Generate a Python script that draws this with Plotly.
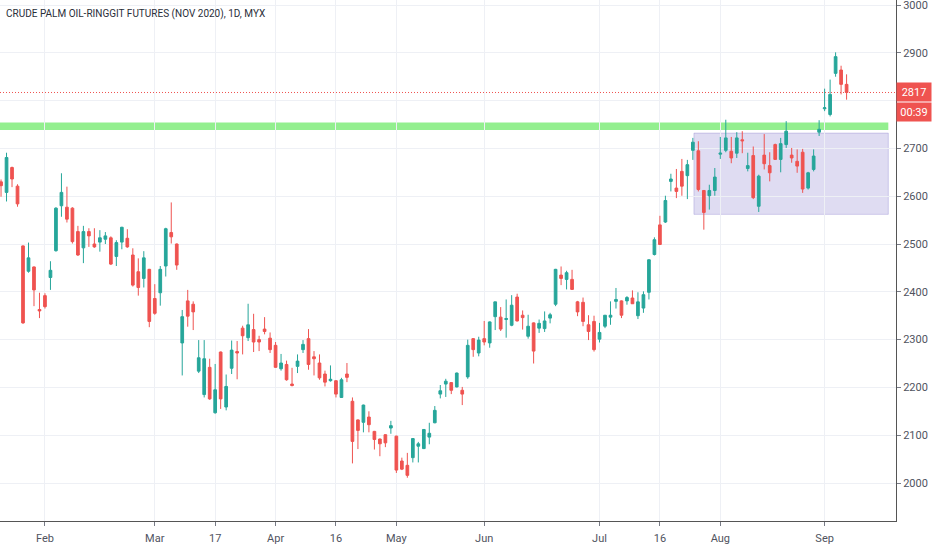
import pandas as pd
import plotly.graph_objects as go

# trading days shown (MYX holidays removed)
holidays = ["2020-01-27", "2020-05-01", "2020-05-07", "2020-05-11", "2020-05-25",
            "2020-05-26", "2020-06-08", "2020-07-31", "2020-08-20", "2020-08-31"]
days = pd.bdate_range("2020-01-21", "2020-09-07")
days = [d.strftime("%Y-%m-%d") for d in days if d.strftime("%Y-%m-%d") not in holidays]

opens = [2630, 2608, 2660, 2621, 2496, 2443, 2452, 2363, 2392, 2430,
         2486, 2580, 2577, 2575, 2526, 2492, 2526, 2500, 2504, 2510,
         2513, 2474, 2504, 2512, 2477, 2442, 2428, 2447, 2386, 2398,
         2454, 2524, 2500, 2293, 2381, 2374, 2234, 2185, 2242, 2147,
         2274, 2159, 2240, 2275, 2324, 2304, 2321, 2300, 2322, 2303,
         2288, 2239, 2248, 2207, 2244, 2279, 2302, 2264, 2251, 2228,
         2214, 2214, 2179, 2228, 2171, 2132, 2127, 2138, 2108, 2092,
         2101, 2115, 2098, 2046, 2037, 2053, 2077, 2072, 2096, 2126,
         2186, 2207, 2210, 2201, 2194, 2222, 2302, 2272, 2302, 2293,
         2348, 2347, 2342, 2330, 2389, 2351, 2307, 2335, 2324, 2323,
         2345, 2374, 2435, 2426, 2426, 2379, 2378, 2331, 2338, 2301,
         2328, 2347, 2380, 2381, 2381, 2387, 2350, 2366, 2399, 2478,
         2540, 2546, 2631, 2617, 2652, 2643, 2696, 2695, 2612, 2601,
         2612, 2688, 2696, 2694, 2690, 2718, 2658, 2685, 2579, 2686,
         2664, 2708, 2677, 2708, 2686, 2673, 2692, 2617, 2656, 2734,
         2783, 2771, 2857, 2864, 2834]
highs = [2635, 2691, 2662, 2625, 2497, 2503, 2453, 2398, 2397, 2464,
         2577, 2648, 2620, 2577, 2538, 2538, 2533, 2533, 2529, 2525,
         2516, 2508, 2536, 2531, 2491, 2470, 2485, 2448, 2416, 2454,
         2534, 2587, 2501, 2362, 2404, 2380, 2299, 2299, 2260, 2249,
         2275, 2227, 2298, 2297, 2329, 2375, 2354, 2308, 2347, 2315,
         2295, 2270, 2256, 2241, 2269, 2299, 2322, 2276, 2269, 2235,
         2246, 2215, 2220, 2251, 2179, 2133, 2164, 2150, 2109, 2093,
         2102, 2130, 2099, 2053, 2063, 2094, 2086, 2113, 2126, 2161,
         2205, 2218, 2211, 2231, 2201, 2300, 2303, 2306, 2339, 2338,
         2379, 2368, 2384, 2393, 2396, 2361, 2352, 2336, 2342, 2359,
         2356, 2448, 2453, 2444, 2446, 2381, 2388, 2351, 2350, 2335,
         2351, 2380, 2408, 2382, 2391, 2403, 2399, 2401, 2468, 2514,
         2559, 2601, 2647, 2657, 2678, 2676, 2722, 2715, 2613, 2624,
         2659, 2724, 2760, 2724, 2734, 2736, 2691, 2704, 2645, 2730,
         2692, 2710, 2722, 2757, 2701, 2698, 2699, 2651, 2698, 2759,
         2825, 2844, 2901, 2873, 2855]
lows = [2599, 2589, 2619, 2578, 2333, 2440, 2370, 2345, 2365, 2404,
        2484, 2557, 2545, 2501, 2475, 2460, 2494, 2492, 2484, 2500,
        2456, 2454, 2489, 2492, 2411, 2392, 2409, 2326, 2352, 2371,
        2432, 2501, 2446, 2225, 2327, 2320, 2230, 2179, 2174, 2145,
        2155, 2152, 2228, 2217, 2269, 2297, 2274, 2276, 2311, 2272,
        2241, 2235, 2214, 2202, 2230, 2272, 2237, 2225, 2216, 2202,
        2212, 2179, 2178, 2211, 2041, 2071, 2106, 2106, 2070, 2056,
        2075, 2103, 2021, 2027, 2011, 2043, 2043, 2071, 2081, 2125,
        2177, 2180, 2186, 2200, 2163, 2218, 2264, 2265, 2288, 2283,
        2320, 2318, 2304, 2328, 2338, 2321, 2302, 2250, 2314, 2316,
        2334, 2370, 2414, 2405, 2404, 2349, 2328, 2299, 2275, 2294,
        2324, 2331, 2365, 2345, 2373, 2375, 2343, 2356, 2384, 2476,
        2498, 2544, 2610, 2596, 2601, 2594, 2676, 2610, 2530, 2572,
        2601, 2678, 2692, 2669, 2680, 2690, 2652, 2594, 2567, 2656,
        2631, 2676, 2650, 2701, 2670, 2649, 2607, 2614, 2652, 2726,
        2778, 2767, 2850, 2813, 2802]
closes = [2622, 2681, 2636, 2584, 2335, 2471, 2404, 2360, 2369, 2445,
          2575, 2608, 2552, 2505, 2477, 2526, 2517, 2494, 2513, 2517,
          2458, 2503, 2535, 2494, 2414, 2409, 2471, 2338, 2355, 2447,
          2532, 2515, 2456, 2348, 2349, 2358, 2262, 2260, 2176, 2195,
          2176, 2202, 2278, 2272, 2308, 2331, 2295, 2295, 2317, 2279,
          2242, 2251, 2216, 2204, 2255, 2290, 2248, 2260, 2220, 2211,
          2217, 2186, 2216, 2221, 2087, 2110, 2163, 2122, 2091, 2082,
          2084, 2120, 2027, 2029, 2016, 2093, 2082, 2112, 2104, 2152,
          2193, 2213, 2194, 2230, 2186, 2288, 2279, 2299, 2295, 2337,
          2379, 2322, 2344, 2372, 2339, 2346, 2328, 2276, 2334, 2339,
          2352, 2447, 2428, 2440, 2405, 2358, 2338, 2317, 2279, 2315,
          2351, 2351, 2384, 2351, 2388, 2375, 2379, 2394, 2467, 2509,
          2499, 2591, 2636, 2610, 2621, 2666, 2713, 2614, 2566, 2612,
          2640, 2690, 2722, 2680, 2722, 2716, 2664, 2597, 2642, 2668,
          2649, 2677, 2710, 2736, 2680, 2663, 2615, 2649, 2684, 2740,
          2785, 2813, 2892, 2834, 2817]

tick_days = ["2020-02-03", "2020-03-02", "2020-03-17", "2020-04-01", "2020-04-16", "2020-05-04",
             "2020-06-01", "2020-07-01", "2020-07-16", "2020-08-03", "2020-09-01"]
tick_text = ["Feb", "Mar", "17", "Apr", "16", "May", "Jun", "Jul", "16", "Aug", "Sep"]
price_ticks = list(range(2000, 3001, 100))

last_price = 2817
countdown = "00:39"
resistance = [2738.5, 2754]      # green band
zone = [126.2, 161.6, 2562, 2732]  # x0, x1 (bar index), y0, y1
band_end = 161.6

# the scale label under the last-price box is hidden, like on the trading screen
price_labels = [str(p) if abs(p - last_price) > 25 else "" for p in price_ticks]

up, down = "#26a69a", "#ef5350"
font = "Roboto, Open Sans, sans-serif"

fig = go.Figure(go.Candlestick(
    x=days, open=opens, high=highs, low=lows, close=closes,
    increasing=dict(line=dict(color=up, width=1), fillcolor=up),
    decreasing=dict(line=dict(color=down, width=1), fillcolor=down),
    whiskerwidth=0, showlegend=False,
))

fig.add_shape(type="rect", xref="x", yref="y", x0=-1, x1=band_end,
              y0=resistance[0], y1=resistance[1],
              fillcolor="#93ef8f", line_width=0, layer="below")
fig.add_shape(type="rect", xref="x", yref="y", x0=zone[0], x1=zone[1],
              y0=zone[2], y1=zone[3],
              fillcolor="rgba(120,110,200,0.24)", line=dict(color="rgba(120,110,200,0.3)", width=1),
              layer="below")
fig.add_shape(type="line", xref="paper", yref="y", x0=0, x1=1, y0=last_price, y1=last_price,
              line=dict(color=down, width=1, dash="1px,2px"))

# last price + countdown boxes on the price scale
fig.add_annotation(xref="paper", yref="y", x=1, y=last_price, text=str(last_price),
                   showarrow=False, xanchor="left", bgcolor=down,
                   width=32, height=16, borderpad=1,
                   font=dict(family=font, size=11, color="white"))
fig.add_annotation(xref="paper", yref="y", x=1, y=last_price, text=countdown, yshift=-20,
                   showarrow=False, xanchor="left", bgcolor=down,
                   width=32, height=16, borderpad=1,
                   font=dict(family=font, size=11, color="white"))

fig.add_annotation(xref="paper", yref="paper", x=0, y=1, xanchor="left", yanchor="top",
                   xshift=4, yshift=-6, showarrow=False,
                   text="CRUDE PALM OIL-RINGGIT FUTURES (NOV 2020), 1D, MYX",
                   font=dict(family=font, size=10, color="#2a2e39"))

fig.update_layout(
    width=932, height=550,
    margin=dict(l=0, r=36, t=0, b=29),
    paper_bgcolor="white", plot_bgcolor="white",
    font=dict(family=font, size=11, color="#50535e"),
    xaxis=dict(type="category", range=[-0.19, 163.0], rangeslider=dict(visible=False),
               tickvals=tick_days, ticktext=tick_text, showgrid=True, gridcolor="#eef0f5",
               ticks="outside", ticklen=4, tickcolor="#787b86", ticklabelstandoff=3,
               showline=True, linecolor="#555", linewidth=1, zeroline=False),
    yaxis=dict(side="right", range=[1920.5, 3010.5], tickvals=price_ticks, ticktext=price_labels,
               showgrid=True, gridcolor="#eef0f5", ticks="outside", ticklen=4, tickcolor="#787b86",
               ticklabeloverflow="allow",
               showline=True, linecolor="#555", linewidth=1, zeroline=False),
)

fig.write_html("out.html", config={"displayModeBar": False},
               post_script="document.body.style.margin='0';")
